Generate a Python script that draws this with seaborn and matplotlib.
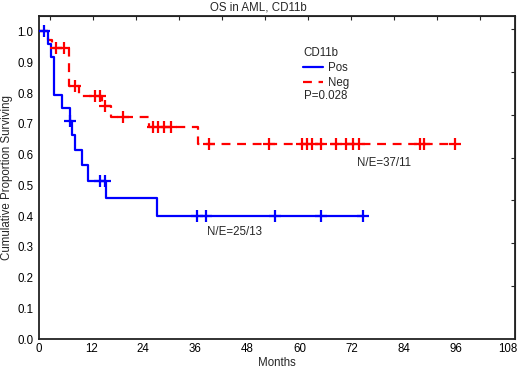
import numpy as np
import pandas as pd
import matplotlib
matplotlib.use("Agg")
import matplotlib.pyplot as plt
from matplotlib.lines import Line2D
import seaborn as sns

# Kaplan-Meier steps (months, cumulative proportion surviving)
pos_times = [0, 2.1, 2.7, 3.5, 5.2, 7.1, 7.7, 8.4, 10.0, 11.3, 15.5, 27.1, 74.5]
pos_surv = [1.0, 0.958, 0.917, 0.792, 0.750, 0.708, 0.664, 0.615, 0.565, 0.515, 0.460, 0.402, 0.402]
pos_censored = [1.2, 7.15, 14.0, 15.2, 36.4, 38.5, 54.3, 64.8, 74.5]

neg_times = [0, 2.0, 3.1, 6.9, 9.2, 14.6, 16.5, 25.4, 36.6, 95.8]
neg_surv = [1.0, 0.973, 0.946, 0.823, 0.791, 0.758, 0.723, 0.688, 0.635, 0.635]
neg_censored = [4.0, 5.7, 8.3, 13.0, 14.0, 15.3, 19.3, 26.2, 27.4, 28.7, 30.3, 39.2,
                52.9, 60.5, 61.7, 62.8, 64.8, 68.3, 70.6, 72.3, 73.7, 87.6, 88.7, 95.8]

x_ticks = list(range(0, 109, 12))
y_ticks = [i / 10 for i in range(11)]


def level_at(times, surv, t):
    # survival level of the step curve at time t
    idx = np.searchsorted(times, t, side="right") - 1
    return np.array(surv)[idx]


sns.set_style("white")
plt.rcParams['font.family'] = ['Liberation Sans', 'DejaVu Sans']
fs = 8.3

fig = plt.figure(figsize=(5.2, 3.69), dpi=100)
ax = fig.add_axes([0.075, 0.0805, 0.915, 0.876])

neg_df = pd.DataFrame({"month": neg_times, "surv": neg_surv})
pos_df = pd.DataFrame({"month": pos_times, "surv": pos_surv})

sns.lineplot(data=neg_df, x="month", y="surv", drawstyle="steps-post", estimator=None,
             color="#ff0000", linewidth=1.6, linestyle=(0, (4, 3)), ax=ax)
sns.scatterplot(x=neg_censored, y=level_at(neg_times, neg_surv, neg_censored),
                marker="+", s=75, color="#ff0000", linewidth=1.6, ax=ax, zorder=3)

sns.lineplot(data=pos_df, x="month", y="surv", drawstyle="steps-post", estimator=None,
             color="#0000ff", linewidth=1.6, ax=ax)
sns.scatterplot(x=pos_censored, y=level_at(pos_times, pos_surv, pos_censored),
                marker="+", s=75, color="#0000ff", linewidth=1.6, ax=ax, zorder=3)

ax.set_xlim(0, 109.5)
ax.set_ylim(0, 1.05)
ax.set_xticks(x_ticks)
ax.set_yticks(y_ticks)
ax.set_yticklabels([f"{v:.1f}" for v in y_ticks])
ax.tick_params(direction="in", length=3, width=1, labelsize=fs, colors="black")
ax.tick_params(axis="y", pad=4)
ax.tick_params(axis="x", pad=3)
for sp in ax.spines.values():
    sp.set_linewidth(1.3)
    sp.set_color("#222222")

# extra inward ticks on the top and right frame
top = ax.secondary_xaxis("top")
top.set_xticks([2.5 + 9.9 * k for k in range(11)])
top.tick_params(direction="in", length=3, labeltop=False)
right = ax.secondary_yaxis("right")
right.set_yticks([0.173 + 0.139 * k for k in range(7)])
right.tick_params(direction="in", length=3, labelright=False)

ax.set_xlabel("Months", fontsize=fs, labelpad=1)
ax.set_ylabel("Cumulative Proportion Surviving", fontsize=fs, labelpad=3)
fig.suptitle("OS in AML, CD11b", fontsize=fs, x=0.497, y=0.997)

handles = [Line2D([], [], color="#0000ff", lw=1.6),
           Line2D([], [], color="#ff0000", lw=1.6, linestyle=(0, (4, 3)))]
leg = ax.legend(handles, ["Pos", "Neg"], title="CD11b", loc="upper left",
                bbox_to_anchor=(0.545, 0.918), frameon=False, fontsize=fs,
                title_fontsize=fs, handlelength=1.75, handletextpad=0.45,
                labelspacing=0.25, alignment="left", borderaxespad=0)
ax.text(0.557, 0.752, "P=0.028", transform=ax.transAxes, fontsize=fs, va="center")
ax.text(0.669, 0.545, "N/E=37/11", transform=ax.transAxes, fontsize=fs, va="center")
ax.text(0.353, 0.333, "N/E=25/13", transform=ax.transAxes, fontsize=fs, va="center")

fig.savefig("out.png", dpi=100)
